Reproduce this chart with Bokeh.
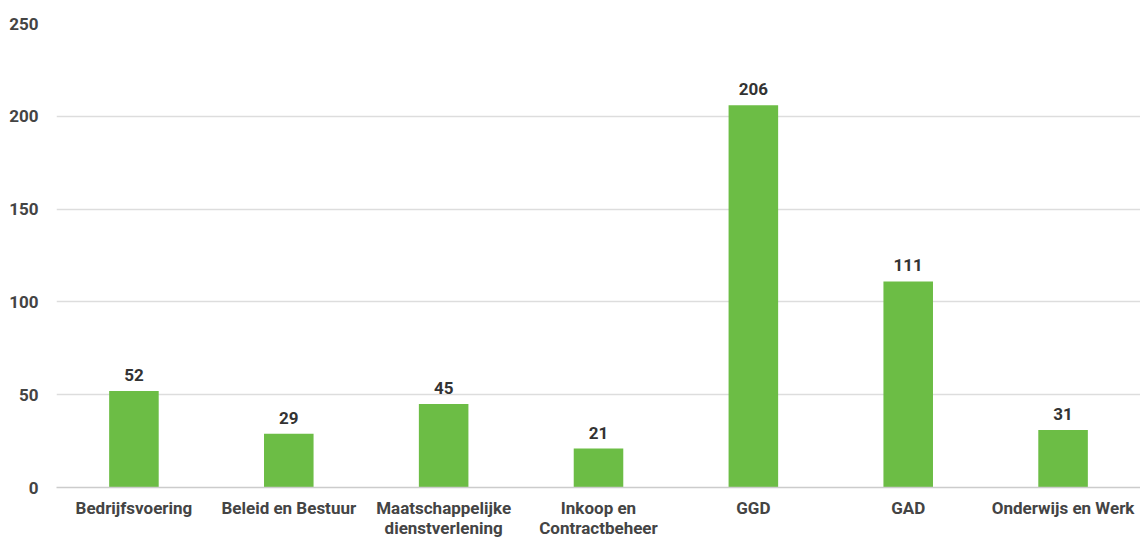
from bokeh.plotting import figure
from bokeh.models import FactorRange, Range1d, FixedTicker, ColumnDataSource
from bokeh.core.properties import value
from bokeh.embed import file_html
from bokeh.resources import INLINE

categories = ["Bedrijfsvoering", "Beleid en Bestuur", "Maatschappelijke\ndienstverlening",
              "Inkoop en\nContractbeheer", "GGD", "GAD", "Onderwijs en Werk"]
counts = [52, 29, 45, 21, 206, 111, 31]
y_ticks = [0, 50, 100, 150, 200, 250]

src = ColumnDataSource(dict(cat=categories, val=counts, lbl=[str(v) for v in counts]))

p = figure(x_range=FactorRange(*categories), y_range=Range1d(0, 250),
           width=1140, height=540, output_backend="svg", toolbar_location=None,
           min_border_left=56, min_border_right=0, min_border_top=23, min_border_bottom=50)
p.outline_line_color = None
p.background_fill_color = "white"
p.border_fill_color = "white"

p.vbar(x="cat", top="val", width=0.32, source=src, color="#6cbd45", line_color=None)
p.text(x="cat", y="val", text="lbl", source=src, y_offset=-10,
       text_align="center", text_baseline="bottom",
       text_font=value("Roboto"), text_font_style="bold", text_font_size="17px",
       text_color="#333333")

p.xgrid.grid_line_color = None
p.ygrid.grid_line_color = "#dddddd"
p.ygrid.grid_line_width = 1.5
p.yaxis.ticker = FixedTicker(ticks=y_ticks)
p.yaxis.axis_line_color = None
p.yaxis.major_tick_line_color = None
p.yaxis.minor_tick_line_color = None
p.yaxis.major_label_standoff = 12
for ax in (p.xaxis, p.yaxis):
    ax.major_label_text_font = "Roboto"
    ax.major_label_text_font_style = "bold"
    ax.major_label_text_font_size = "17px"
    ax.major_label_text_color = "#444444"
p.xaxis.major_label_text_line_height = 1.0
p.xaxis.axis_line_color = "#cccccc"
p.xaxis.axis_line_width = 1.5
p.xaxis.major_tick_line_color = None
p.xaxis.minor_tick_line_color = None
p.xaxis.major_label_standoff = 4

open("out.html", "w").write(file_html(p, INLINE))
